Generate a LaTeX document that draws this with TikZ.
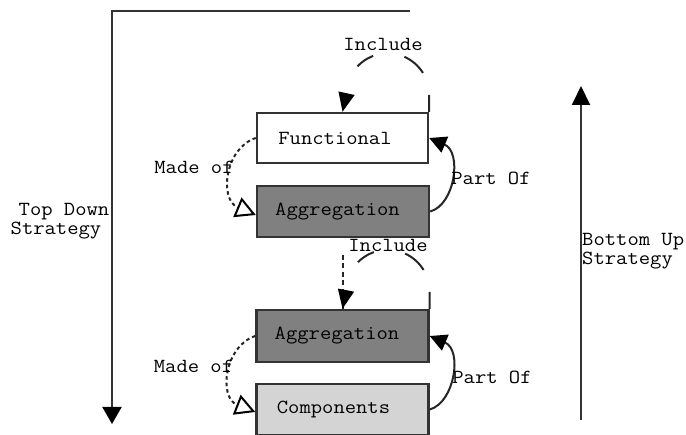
\documentclass[tikz,border=0pt]{standalone}
\usepackage{fontspec}
\newfontfamily\cour[FakeStretch=1.1]{Latin Modern Mono}
\usetikzlibrary{arrows.meta,calc}
\definecolor{edge}{HTML}{333333}
\definecolor{agg}{HTML}{808080}
\definecolor{comp}{HTML}{D4D4D4}
\tikzset{
  txt/.style={font=\cour\fontsize{20}{19}\selectfont, inner sep=0pt},
  box/.style={txt, draw=edge, line width=2.4pt, minimum width=172pt, minimum height=51pt},
  strat/.style={draw=edge, line width=2pt},
  loopline/.style={draw=black!85, line width=2pt,
     dash pattern=on 17pt off 23pt on 25pt off 32pt on 19pt off 60pt},
  incl/.style={draw=black!85, line width=2pt, dash pattern=on 5pt off 3.5pt},
  madeof/.style={draw=black!85, line width=2pt, dash pattern=on 3.5pt off 3pt,
     -{Triangle[open,length=20pt,width=21pt,line width=2pt,color=black]}},
  partof/.style={draw=black!85, line width=2pt, -{Triangle[length=17pt,width=17pt,color=black]}},
  filltip/.style={-{Triangle[length=19pt,width=16pt,color=black]}}
}
\begin{document}
\begin{tikzpicture}[x=1pt,y=-1pt]
\useasboundingbox (0,0) rectangle (686,435);

% strategy arrows
\coordinate (tl) at (410,11);
\coordinate (tc) at (112,11);
\coordinate (tb) at (112,424);
\draw[strat, -{Triangle[length=17pt,width=19pt,color=black]}] (tl) -- (tc) -- (tb);
\coordinate (bb) at (581,420);
\coordinate (bt) at (581,86);
\draw[strat, -{Triangle[length=19pt,width=18pt,color=black]}] (bb) -- (bt);
\node[txt, align=center] (td) at (60,221.5) {\hspace*{8pt}Top Down\\Strategy\hspace*{8pt}};
\node[txt, align=left, anchor=west] (bu) at (582,251) {Bottom Up\\Strategy};

% boxes
\node[box, fill=white, minimum width=171pt, minimum height=50pt] (func) at (342.5,138) {Functional\hspace*{15pt}};
\node[box, fill=agg] (agg1) at (343,211.5) {Aggregation\hspace*{11pt}};
\node[box, fill=agg, minimum height=52pt] (agg2) at (342.5,336) {Aggregation\hspace*{11pt}};
\node[box, fill=comp] (comp) at (342.5,409.5) {Components\hspace*{18pt}};

% include loops
\draw[loopline, filltip] (func.north east) -- ++(0,-17) arc[start angle=0, end angle=-180, radius=41.5] -- (func.north);
\node[txt] (inc1) at (383,44) {Include};
\coordinate (dstart) at (342.5,255);
\draw[incl] (dstart) -- (agg2.north);
\draw[loopline, filltip] (agg2.north east) -- ++(0,-17) arc[start angle=0, end angle=-180, radius=42] -- (agg2.north);
\node[txt] (inc2) at (388,245) {Include};

% made of
\draw[madeof] (func.west) .. controls ($(func.west)+(-31,10)$) and ($(agg1.west)+(-37,-12)$) .. ($(agg1.west)+(0,3.5)$);
\node[txt] (mo1) at (194,167) {Made of};
\draw[madeof] (agg2.west) .. controls ($(agg2.west)+(-31,10)$) and ($(comp.west)+(-37,-12)$) .. ($(comp.west)+(0,2.5)$);
\node[txt] (mo2) at (193.5,366) {Made of};

% part of
\draw[partof] (agg1.east) .. controls ($(agg1.east)+(25,-7)$) and ($(func.east)+(33,14)$) .. (func.east);
\node[txt] (po1) at (491,178) {Part Of};
\draw[partof] (comp.east) .. controls ($(comp.east)+(25,-7)$) and ($(agg2.east)+(33,14)$) .. (agg2.east);
\node[txt] (po2) at (492,377) {Part Of};
\end{tikzpicture}
\end{document}
